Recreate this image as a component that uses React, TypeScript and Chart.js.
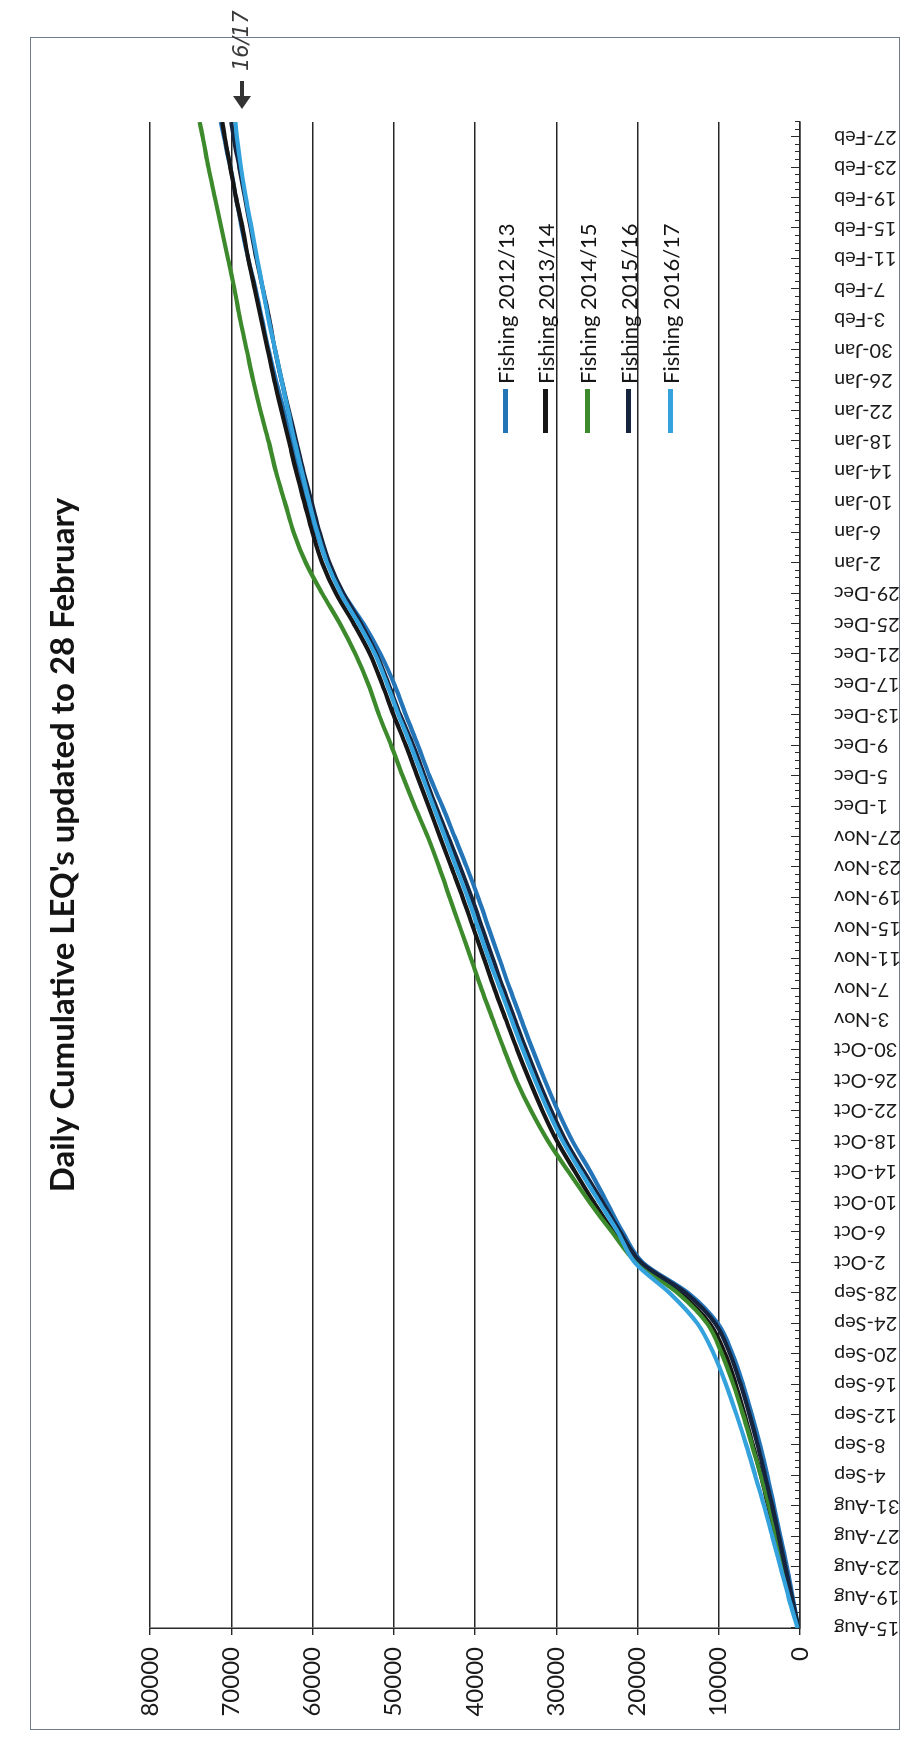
import { useEffect, useRef } from "react";
import { Chart, registerables } from "chart.js";

Chart.register(...registerables);

// Day number counted from 15 August (day 0) for each sampled reading.
const DAY_NUMBERS = [
  0, 4, 8, 12, 16, 20, 24, 28, 32, 36, 40, 44, 48, 52, 56, 60, 64, 68, 72, 76,
  80, 84, 88, 92, 96, 100, 104, 108, 112, 116, 120, 124, 128, 132, 136, 140,
  144, 148, 152, 156, 160, 164, 168, 172, 176, 180, 184, 188, 192, 196, 198,
];

// Category labels, one every fourth day starting 15-Aug.
const TICK_LABELS = [
  "15-Aug", "19-Aug", "23-Aug", "27-Aug", "31-Aug", "4-Sep", "8-Sep", "12-Sep",
  "16-Sep", "20-Sep", "24-Sep", "28-Sep", "2-Oct", "6-Oct", "10-Oct", "14-Oct",
  "18-Oct", "22-Oct", "26-Oct", "30-Oct", "3-Nov", "7-Nov", "11-Nov", "15-Nov",
  "19-Nov", "23-Nov", "27-Nov", "1-Dec", "5-Dec", "9-Dec", "13-Dec", "17-Dec",
  "21-Dec", "25-Dec", "29-Dec", "2-Jan", "6-Jan", "10-Jan", "14-Jan", "18-Jan",
  "22-Jan", "26-Jan", "30-Jan", "3-Feb", "7-Feb", "11-Feb", "15-Feb", "19-Feb",
  "23-Feb", "27-Feb",
];

const VALUE_TICKS = [0, 10000, 20000, 30000, 40000, 50000, 60000, 70000, 80000];

const SEASON_NAMES = [
  "Fishing 2012/13",
  "Fishing 2013/14",
  "Fishing 2014/15",
  "Fishing 2015/16",
  "Fishing 2016/17",
];

const FISHING_2012_13 = [
  200, 900, 1600, 2400, 3200, 4000, 4900, 5900, 7000, 8300, 10100, 13700,
  19300, 21800, 23800, 25800, 28000, 29800, 31400, 32900, 34300, 35700, 37000,
  38300, 39600, 41000, 42500, 44000, 45600, 47000, 48500, 49900, 51600, 53700,
  56200, 58100, 59500, 60600, 61700, 62600, 63500, 64500, 65400, 66200, 67000,
  67900, 68700, 69400, 70100, 70900, 71300,
];

const FISHING_2013_14 = [
  200, 1200, 2100, 3000, 3900, 4800, 5800, 6800, 7900, 9200, 11100, 14700,
  19800, 22900, 25400, 27700, 29900, 31700, 33300, 34800, 36200, 37600, 38900,
  40200, 41500, 42900, 44300, 45700, 47100, 48500, 50000, 51400, 52900, 54900,
  57100, 58800, 60000, 61000, 62000, 62900, 63800, 64700, 65500, 66300, 67100,
  67900, 68600, 69400, 70100, 70800, 71100,
];

const FISHING_2014_15 = [
  200, 1100, 2000, 2900, 3800, 4800, 5900, 7000, 8200, 9600, 11400, 15000,
  20100, 23100, 25900, 28500, 31000, 33100, 34900, 36400, 37800, 39200, 40500,
  41800, 43100, 44400, 45800, 47400, 48900, 50300, 51800, 53100, 54700, 56600,
  58800, 60800, 62300, 63400, 64500, 65400, 66400, 67300, 68100, 68900, 69600,
  70400, 71200, 72000, 72800, 73500, 73900,
];

const FISHING_2015_16 = [
  200, 1000, 1800, 2600, 3400, 4300, 5200, 6200, 7300, 8600, 10400, 14000,
  19500, 22100, 24300, 26600, 28800, 30600, 32200, 33700, 35100, 36500, 37800,
  39100, 40400, 41800, 43300, 44800, 46200, 47600, 49200, 50600, 52100, 54000,
  56200, 57900, 59100, 60100, 61100, 62000, 62900, 63800, 64600, 65300, 66100,
  66900, 67600, 68300, 69000, 69700, 70000,
];

const FISHING_2016_17 = [
  300, 1400, 2400, 3400, 4400, 5500, 6600, 7800, 9100, 10600, 12600, 16000,
  20300, 22400, 24700, 27000, 29200, 31000, 32600, 34100, 35500, 36900, 38300,
  39600, 40900, 42300, 43700, 45100, 46500, 47900, 49400, 50800, 52300, 54300,
  56500, 58200, 59400, 60400, 61300, 62200, 63000, 63800, 64600, 65400, 66100,
  66800, 67500, 68200, 68800, 69300, 69500,
];

const SEASON_VALUES = [
  FISHING_2012_13,
  FISHING_2013_14,
  FISHING_2014_15,
  FISHING_2015_16,
  FISHING_2016_17,
];

const SEASON_COLORS = ["#2474b8", "#161616", "#3c8a2c", "#17243d", "#34a2dc"];

const TITLE = "Daily Cumulative LEQ's updated to 28 February";
const LAST_DAY = 198;

// Chart drawn in landscape, then turned a quarter turn anticlockwise on the page.
const CHART_W = 1739;
const CHART_H = 910;

const FONT = "Lato, 'Open Sans', sans-serif";

// Small inward tick marks for every day along the date axis.
const dailyTickMarks = {
  id: "dailyTickMarks",
  beforeDatasetsDraw(chart: any) {
    const { ctx, chartArea, scales } = chart;
    const xs = scales.x;
    ctx.save();
    ctx.strokeStyle = "#2a2a2a";
    ctx.lineWidth = 1;
    for (let d = 0; d <= LAST_DAY; d++) {
      const px = Math.round(xs.getPixelForValue(d)) + 0.5;
      const len = d % 4 === 0 ? 9 : 5;
      ctx.beginPath();
      ctx.moveTo(px, chartArea.bottom);
      ctx.lineTo(px, chartArea.bottom - len);
      ctx.stroke();
    }
    ctx.restore();
  },
};

function LeqChart() {
  const canvasRef = useRef<HTMLCanvasElement | null>(null);

  useEffect(() => {
    const canvas = canvasRef.current;
    if (!canvas) return;

    const datasets = SEASON_NAMES.map((name, i) => ({
      label: name,
      data: DAY_NUMBERS.map((d, j) => ({ x: d, y: SEASON_VALUES[i][j] })),
      borderColor: SEASON_COLORS[i],
      backgroundColor: SEASON_COLORS[i],
      borderWidth: 4.2,
      pointRadius: 0,
      fill: false,
      cubicInterpolationMode: "monotone" as const,
      order: SEASON_NAMES.length - 1 - i,
    }));

    const chart = new Chart(canvas, {
      type: "line",
      data: { datasets },
      options: {
        animation: false,
        responsive: false,
        devicePixelRatio: 1,
        layout: { padding: { left: 0, right: 122, top: 150, bottom: 0 } },
        plugins: {
          legend: { display: false },
          title: { display: false },
          tooltip: { enabled: false },
        },
        scales: {
          x: {
            type: "linear",
            min: 0,
            max: LAST_DAY,
            afterBuildTicks(scale: any) {
              scale.ticks = TICK_LABELS.map((_, i) => ({ value: i * 4 }));
            },
            afterFit(scale: any) {
              scale.height = 110;
            },
            ticks: {
              autoSkip: false,
              minRotation: 90,
              maxRotation: 90,
              padding: 26,
              color: "#1a1a1a",
              font: { family: FONT, size: 20 },
              callback: (_v: any, index: number) => TICK_LABELS[index] ?? "",
            },
            grid: { display: false },
            border: { display: true, color: "#2a2a2a", width: 1.5 },
          },
          y: {
            type: "linear",
            min: 0,
            max: 80000,
            afterBuildTicks(scale: any) {
              scale.ticks = VALUE_TICKS.map((v) => ({ value: v }));
            },
            afterFit(scale: any) {
              scale.width = 111;
            },
            ticks: {
              padding: 12,
              color: "#1a1a1a",
              font: { family: FONT, size: 24 },
              callback: (v: any) => String(v),
            },
            grid: {
              color: "#262626",
              lineWidth: 1.4,
              drawTicks: true,
              tickLength: 7,
            },
            border: { display: true, color: "#2a2a2a", width: 1.5 },
          },
        },
      },
      plugins: [dailyTickMarks],
    });

    return () => chart.destroy();
  }, []);

  return (
    <canvas
      ref={canvasRef}
      width={CHART_W}
      height={CHART_H}
      style={{ position: "absolute", left: 0, top: 0, width: CHART_W, height: CHART_H }}
    />
  );
}

const LEGEND_Y = [505, 545, 587, 628, 670];

export default function App() {
  return (
    <div
      style={{
        position: "fixed",
        left: 0,
        top: 0,
        width: CHART_H,
        height: CHART_W,
        background: "#ffffff",
        overflow: "hidden",
      }}
    >
      <div
        style={{
          position: "absolute",
          left: 0,
          top: 0,
          width: CHART_W,
          height: CHART_H,
          transformOrigin: "0 0",
          transform: `translate(0px, ${CHART_W}px) rotate(-90deg)`,
          fontFamily: FONT,
          color: "#141414",
        }}
      >
        <div
          style={{
            position: "absolute",
            left: 9,
            top: 30,
            width: 1693,
            height: 870,
            border: "1.5px solid #6f7c8a",
            boxSizing: "border-box",
          }}
        />
        <LeqChart />
        <div
          style={{
            position: "absolute",
            left: 394,
            width: 1000,
            top: 41,
            lineHeight: "40px",
            textAlign: "center",
            fontSize: 33,
            fontWeight: 700,
            whiteSpace: "nowrap",
          }}
        >
          {TITLE}
        </div>
        {SEASON_NAMES.map((name, i) => (
          <div
            key={name}
            style={{
              position: "absolute",
              left: 1306,
              top: LEGEND_Y[i] - 13,
              height: 26,
              display: "flex",
              alignItems: "center",
              whiteSpace: "nowrap",
              fontSize: 22,
            }}
          >
            <span
              style={{
                display: "inline-block",
                width: 44,
                height: 5,
                background: SEASON_COLORS[i],
              }}
            />
            <span style={{ marginLeft: 5 }}>{name}</span>
          </div>
        ))}
        <svg
          width={30}
          height={18}
          style={{ position: "absolute", left: 1630, top: 233 }}
        >
          <polygon points="0,9 13,0 13,18" fill="#333" />
          <rect x={12} y={7} width={16} height={4} fill="#333" />
        </svg>
        <div
          style={{
            position: "absolute",
            left: 1668,
            top: 229,
            fontSize: 21,
            fontStyle: "italic",
            fontFamily: "'DejaVu Sans', sans-serif",
            color: "#3a3a3a",
            whiteSpace: "nowrap",
          }}
        >
          16/17
        </div>
      </div>
    </div>
  );
}
